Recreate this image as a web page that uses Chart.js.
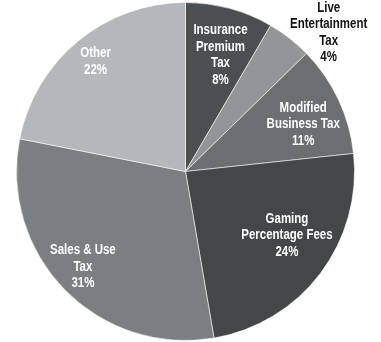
<!DOCTYPE html>
<html>
<head>
<meta charset="utf-8">
<script src="https://cdn.jsdelivr.net/npm/chart.js@4/dist/chart.umd.min.js"></script>
<style>
  html, body { margin: 0; padding: 0; background: #ffffff; }
  #wrap { width: 381px; height: 342px; position: relative; }
</style>
</head>
<body>
<div id="wrap"><canvas id="c" width="381" height="342"></canvas></div>
<script>
// ---- data ----
const categories = [
  ["Insurance", "Premium", "Tax"],
  ["Live", "Entertainment", "Tax"],
  ["Modified", "Business Tax"],
  ["Gaming", "Percentage Fees"],
  ["Sales & Use", "Tax"],
  ["Other"]
];
const values = [8.4, 4.3, 10.6, 24.0, 30.8, 21.9];
const percentLabels = ["8%", "4%", "11%", "24%", "31%", "22%"];

// ---- styles ----
const sliceColors = ["#4b4f52", "#939698", "#6b6f72", "#434748", "#7b7f82", "#b4b8ba"];
const labelColors = ["#ffffff", "#111111", "#ffffff", "#ffffff", "#ffffff", "#ffffff"];
// [radius fraction, angle offset in degrees from slice middle]
const labelPlacement = [[0.72, 1.6], [1.18, 7.9], [0.75, 3.4], [0.71, -4.8], [0.83, 1.3], [0.84, 0.1]];

const labelPlugin = {
  id: 'sliceLabels',
  afterDatasetsDraw(chart) {
    const ctx = chart.ctx;
    const meta = chart.getDatasetMeta(0);
    const lh = 16.5;
    meta.data.forEach((arc, i) => {
      const p = arc.getProps(['x', 'y', 'startAngle', 'endAngle', 'outerRadius'], true);
      const mid = (p.startAngle + p.endAngle) / 2 + labelPlacement[i][1] * Math.PI / 180;
      const r = p.outerRadius * labelPlacement[i][0];
      const cx = p.x + Math.cos(mid) * r;
      const cy = p.y + Math.sin(mid) * r;
      const lines = categories[i].concat([percentLabels[i]]);
      lines.forEach((t, k) => {
        ctx.save();
        ctx.font = 'bold 14px "Liberation Sans", Arial, sans-serif';
        ctx.textAlign = 'center';
        ctx.textBaseline = 'middle';
        ctx.fillStyle = labelColors[i];
        ctx.translate(cx, cy + (k - (lines.length - 1) / 2) * lh);
        ctx.scale(0.82, 1);
        ctx.fillText(t, 0, 0);
        ctx.restore();
      });
    });
  }
};

new Chart(document.getElementById('c'), {
  type: 'pie',
  data: {
    labels: categories.map(c => c.join(' ')),
    datasets: [{
      data: values,
      backgroundColor: sliceColors,
      borderColor: 'rgba(255,255,255,0.55)',
      borderWidth: 1
    }]
  },
  options: {
    responsive: false,
    animation: false,
    layout: { padding: { left: 16, right: 26, top: 2, bottom: 1 } },
    plugins: { legend: { display: false }, tooltip: { enabled: false } }
  },
  plugins: [labelPlugin]
});
</script>
</body>
</html>
